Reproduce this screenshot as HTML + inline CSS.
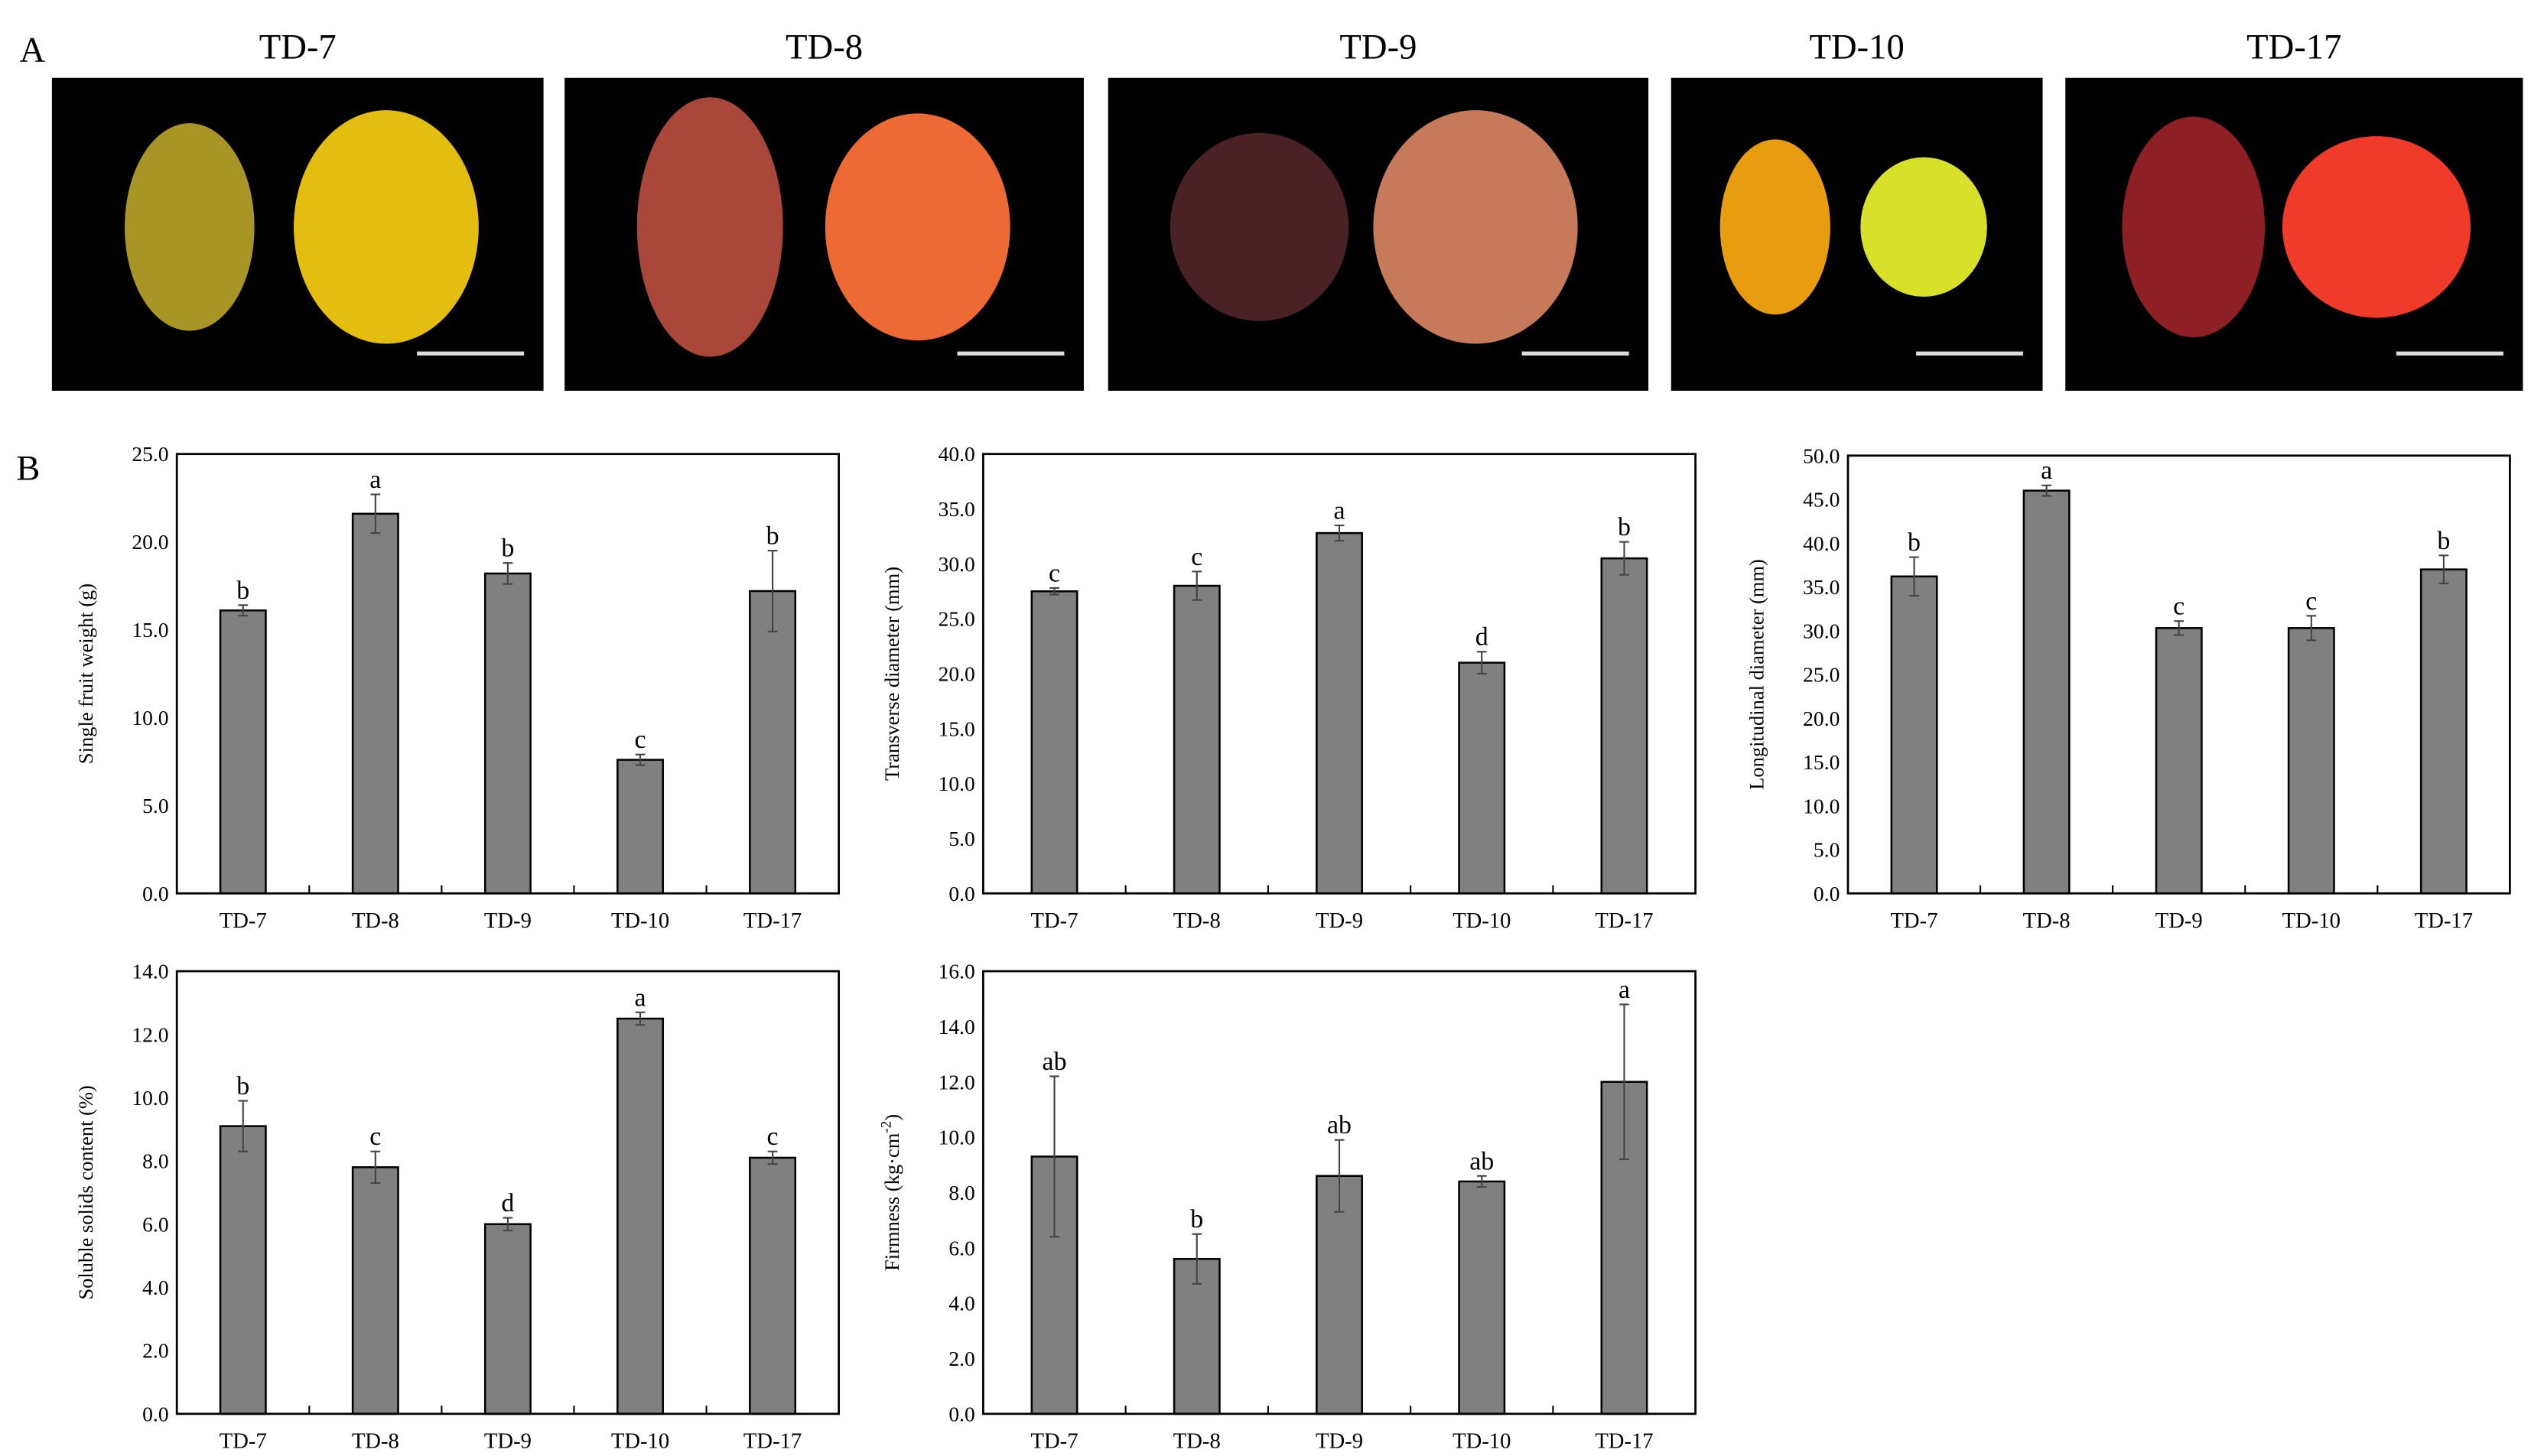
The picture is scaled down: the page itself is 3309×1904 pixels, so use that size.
<!DOCTYPE html>
<html><head><meta charset="utf-8">
<style>html,body{margin:0;padding:0;background:#fff;}svg{display:block;}text{font-family:"Liberation Serif",serif;fill:#000;}</style>
</head><body>
<svg id="fig" width="3309" height="1904" viewBox="0 0 1560 898" preserveAspectRatio="none">
<g id="panelA">
<text x="12" y="38" font-size="22">A</text>
</g>
<g id="panelB">
<text x="10" y="296" font-size="22">B</text>
</g>
</svg>
<script>
const NS='http://www.w3.org/2000/svg';
function mk(tag,attrs,parent){const e=document.createElementNS(NS,tag);for(const k in attrs)e.setAttribute(k,attrs[k]);parent.appendChild(e);return e;}
const categories=['TD-7','TD-8','TD-9','TD-10','TD-17'];
const weightVals=[16.1,21.6,18.2,7.6,17.2];
const weightErr=[0.3,1.1,0.6,0.3,2.3];
const weightSig=['b','a','b','c','b'];
const transVals=[27.5,28.0,32.8,21.0,30.5];
const transErr=[0.3,1.3,0.7,1.0,1.5];
const transSig=['c','c','a','d','b'];
const longVals=[36.2,46.0,30.3,30.3,37.0];
const longErr=[2.2,0.6,0.8,1.4,1.6];
const longSig=['b','a','c','c','b'];
const solidVals=[9.1,7.8,6.0,12.5,8.1];
const solidErr=[0.8,0.5,0.2,0.2,0.2];
const solidSig=['b','c','d','a','c'];
const firmVals=[9.3,5.6,8.6,8.4,12.0];
const firmErr=[2.9,0.9,1.3,0.2,2.8];
const firmSig=['ab','b','ab','ab','a'];

// Photos panel
const A=document.getElementById('panelA');
const photos=[
 {t:'TD-7',x0:32,x1:335,c1:'#a89526',c2:'#e3bd10',r1:[40,64],r2:[57,72]},
 {t:'TD-8',x0:348,x1:668,c1:'#a9473a',c2:'#ee6a35',r1:[45,80],r2:[57,70]},
 {t:'TD-9',x0:683,x1:1016,c1:'#4a2226',c2:'#c77a5a',r1:[55,58],r2:[63,72]},
 {t:'TD-10',x0:1030,x1:1259,c1:'#e89d10',c2:'#d8e02a',r1:[34,54],r2:[39,43]},
 {t:'TD-17',x0:1273,x1:1555,c1:'#8e1f25',c2:'#f03a2a',r1:[44,68],r2:[58,56]}
];
photos.forEach(p=>{
 const g=mk('g',{},A);
 
 
 const tt=mk('text',{x:(p.x0+p.x1)/2,y:36,'font-size':22,'text-anchor':'middle'},g);tt.textContent=p.t;
 
 
 mk('rect',{x:p.x0,y:48,width:p.x1-p.x0,height:193,fill:'#000'},g);
 const w=p.x1-p.x0;
 mk('ellipse',{cx:p.x0+w*0.28,cy:140,rx:p.r1[0],ry:p.r1[1],fill:p.c1},g);
 mk('ellipse',{cx:p.x0+w*0.68,cy:140,rx:p.r2[0],ry:p.r2[1],fill:p.c2},g);
 mk('line',{x1:p.x1-78,x2:p.x1-12,y1:218,y2:218,stroke:'#ddd','stroke-width':2.5},g);
});

const B=document.getElementById('panelB');
function chart(name,L,R,T,Bt,ymax,step,vals,errs,sig,title){
 const g=mk('g',{},B);
 
 
 const y=v=>Bt-(v/ymax)*(Bt-T);
 const bw=(R-L)/categories.length;
 const x=i=>L+bw*(i+0.5);
 for(let v=0;v<=ymax+1e-9;v+=step){
  const t=mk('text',{x:L-5,y:y(v)+4.5,'font-size':13,'text-anchor':'end'},g);t.textContent=v.toFixed(1);
  
  
 }
 for(let i=1;i<categories.length;i++) mk('line',{x1:L+bw*i,x2:L+bw*i,y1:Bt,y2:Bt-5,stroke:'#000','stroke-width':1},g);
 vals.forEach((v,i)=>{
  const b=mk('rect',{x:x(i)-14,y:y(v),width:28,height:Bt-y(v),fill:'#808080',stroke:'#000','stroke-width':1.2},g);
  
  
  const e=errs[i];
  mk('line',{x1:x(i),x2:x(i),y1:y(v+e),y2:y(Math.max(0,v-e)),stroke:'#444','stroke-width':1},g);
  mk('line',{x1:x(i)-3,x2:x(i)+3,y1:y(v+e),y2:y(v+e),stroke:'#444','stroke-width':1},g);
  mk('line',{x1:x(i)-3,x2:x(i)+3,y1:y(v-e),y2:y(v-e),stroke:'#444','stroke-width':1},g);
  const s=mk('text',{x:x(i),y:y(v+e)-4,'font-size':16,'text-anchor':'middle'},g);s.textContent=sig[i];
  
  
  const c=mk('text',{x:x(i),y:Bt+21,'font-size':13.5,'text-anchor':'middle'},g);c.textContent=categories[i];
  
  
 });
 mk('rect',{x:L,y:T,width:R-L,height:Bt-T,fill:'none',stroke:'#000','stroke-width':1.3},g);
 const ty=mk('text',{x:0,y:0,'font-size':12.5,'text-anchor':'middle',transform:`translate(${L-52},${(T+Bt)/2}) rotate(-90)`},g);
 ty.innerHTML=title;
 
 
}
chart('chart-single-fruit-weight',109,517,280,551,25,5,weightVals,weightErr,weightSig,'Single fruit weight (g)');
chart('chart-transverse-diameter',606,1045,280,551,40,5,transVals,transErr,transSig,'Transverse diameter (mm)');
chart('chart-longitudinal-diameter',1139,1547,281,551,50,5,longVals,longErr,longSig,'Longitudinal diameter (mm)');
chart('chart-soluble-solids',109,517,599,872,14,2,solidVals,solidErr,solidSig,'Soluble solids content (%)');
chart('chart-firmness',606,1045,599,872,16,2,firmVals,firmErr,firmSig,'Firmness (kg·cm<tspan dy="-5" font-size="9">-2</tspan><tspan dy="5">)</tspan>');
</script>
</body></html>
